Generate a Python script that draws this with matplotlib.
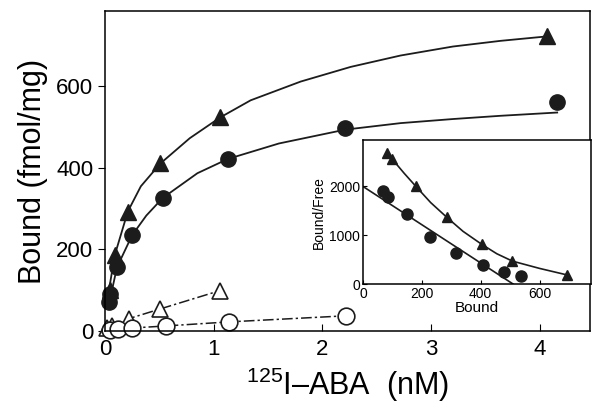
import matplotlib
matplotlib.use("Agg")
import matplotlib.pyplot as plt

plt.rcParams['font.family'] = ['Liberation Sans', 'DejaVu Sans']
plt.rcParams['mathtext.fontset'] = 'custom'
plt.rcParams['mathtext.rm'] = 'Liberation Sans'

ink = '#1c1c1c'

# main panel: saturation binding
tri_x = [0.05, 0.09, 0.21, 0.51, 1.06, 4.07]
tri_y = [100, 186, 293, 411, 524, 723]
tri_fit_x = [0.03, 0.09, 0.21, 0.33, 0.51, 0.78, 1.06, 1.34, 1.8, 2.26,
             2.72, 3.2, 3.64, 4.07]
tri_fit_y = [90, 186, 293, 355, 411, 473, 524, 566, 612, 648,
             676, 698, 712, 723]

circ_x = [0.04, 0.05, 0.11, 0.25, 0.53, 1.13, 2.21, 4.16]
circ_y = [70, 90, 156, 235, 326, 422, 499, 561]
circ_fit_x = [0.04, 0.11, 0.25, 0.38, 0.53, 0.85, 1.13, 1.6, 2.21, 2.72,
              3.2, 3.64, 4.16]
circ_fit_y = [70, 156, 235, 283, 326, 387, 422, 460, 494, 510,
              520, 528, 536]

otri_x = [0.02, 0.06, 0.22, 0.51, 1.06]
otri_y = [6, 12, 30, 54, 99]
ocirc_x = [0.05, 0.12, 0.25, 0.56, 1.14, 2.22]
ocirc_y = [3, 5, 7, 12, 22, 37]

# inset: Scatchard
s_tri_x = [81, 98, 180, 285, 403, 508, 695]
s_tri_y = [2694, 2571, 2000, 1367, 816, 469, 184]
s_tri_fit_x = [81, 98, 140, 180, 230, 285, 340, 403, 455, 508, 600, 695]
s_tri_fit_y = [2694, 2571, 2270, 2000, 1670, 1367, 1080, 816, 620, 469, 320, 184]
s_circ_x = [68, 85, 149, 227, 315, 407, 478, 536]
s_circ_y = [1898, 1775, 1429, 959, 633, 388, 245, 163]
s_circ_fit_x = [0, 510]
s_circ_fit_y = [2000, 0]

fig = plt.figure(figsize=(6, 4.11), dpi=100)
ax = fig.add_axes([0.175, 0.195, 0.808, 0.778])

dd = (0, (7, 2, 1.5, 2))
ax.plot(tri_fit_x, tri_fit_y, color=ink, lw=1.3)
ax.plot(circ_fit_x, circ_fit_y, color=ink, lw=1.3)
ax.plot(tri_x, tri_y, '^', color=ink, ms=11, clip_on=False)
ax.plot(circ_x, circ_y, 'o', color=ink, ms=11, clip_on=False)
ax.plot(otri_x, otri_y, color=ink, lw=1.1, ls=dd, marker='^', ms=11,
        mfc='white', mec=ink, mew=1.2, clip_on=False)
ax.plot(ocirc_x, ocirc_y, color=ink, lw=1.1, ls=dd, marker='o', ms=12,
        mfc='white', mec=ink, mew=1.2, clip_on=False)

ax.set_xlim(0, 4.46)
ax.set_ylim(0, 785)
ax.set_xticks([0, 1, 2, 3, 4])
ax.set_yticks([0, 200, 400, 600])
ax.tick_params(axis='x', direction='in', length=5, labelsize=16, pad=6)
ax.tick_params(axis='y', direction='out', length=5, labelsize=16)
ax.set_xlabel(r'$^{125}$I–ABA  (nM)', fontsize=22, labelpad=4)
ax.set_ylabel('Bound (fmol/mg)', fontsize=22, labelpad=6)
for s in ax.spines.values():
    s.set_linewidth(1.1)

ins = fig.add_axes([0.605, 0.309, 0.380, 0.350])
ins.plot(s_tri_fit_x, s_tri_fit_y, color=ink, lw=1.2)
ins.plot(s_circ_fit_x, s_circ_fit_y, color=ink, lw=1.2)
ins.plot(s_tri_x, s_tri_y, '^', color=ink, ms=7.5, clip_on=False)
ins.plot(s_circ_x, s_circ_y, 'o', color=ink, ms=8, clip_on=False)
ins.set_xlim(0, 775)
ins.set_ylim(0, 2950)
ins.set_xticks([0, 200, 400, 600])
ins.set_yticks([0, 1000, 2000])
ins.tick_params(direction='in', length=3, labelsize=10, pad=2)
ins.set_xlabel('Bound', fontsize=11, labelpad=0)
ins.set_ylabel('Bound/Free', fontsize=10, labelpad=2)
for s in ins.spines.values():
    s.set_linewidth(1.1)

fig.savefig('out.png', dpi=100)
